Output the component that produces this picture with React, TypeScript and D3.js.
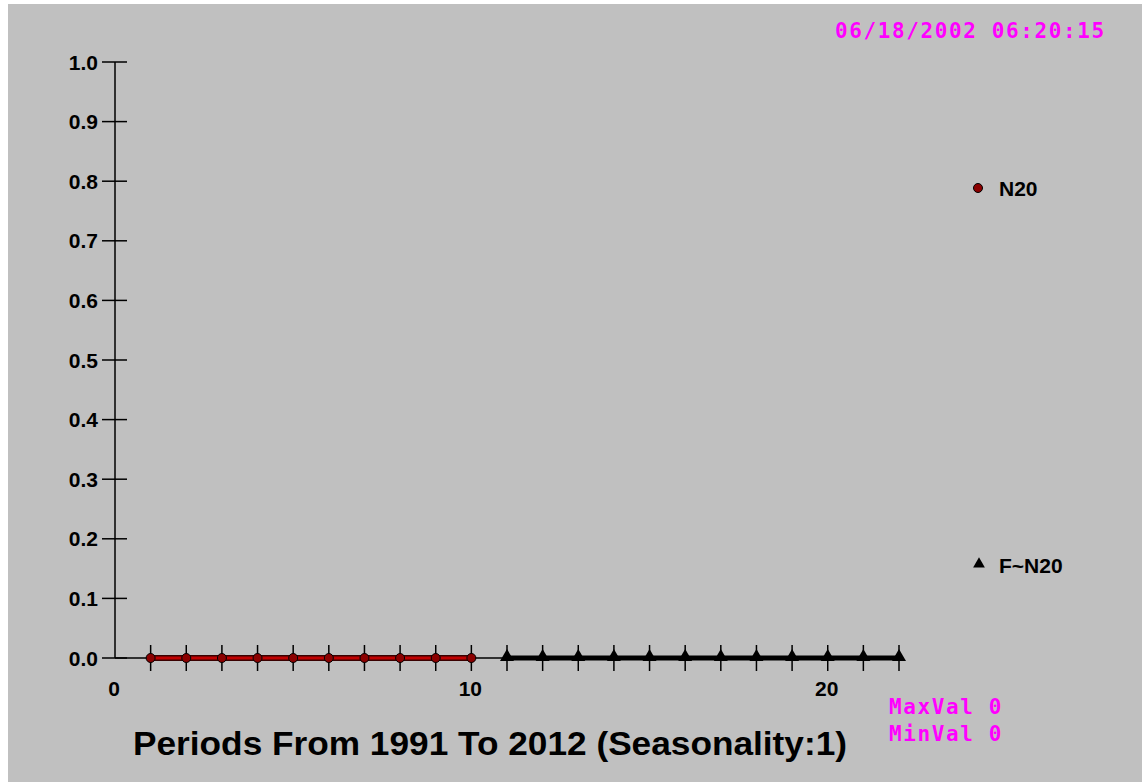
import React from "react";
import * as d3 from "d3";

const W = 1142;
const H = 782;

// Historical series N20 (periods 1-10) and forecast F~N20 (periods 11-22)
const histPeriods = [1, 2, 3, 4, 5, 6, 7, 8, 9, 10];
const histValues = [0, 0, 0, 0, 0, 0, 0, 0, 0, 0];
const fcPeriods = [11, 12, 13, 14, 15, 16, 17, 18, 19, 20, 21, 22];
const fcValues = [0, 0, 0, 0, 0, 0, 0, 0, 0, 0, 0, 0];

const yTicks = [0, 0.1, 0.2, 0.3, 0.4, 0.5, 0.6, 0.7, 0.8, 0.9, 1.0];
const xLabelTicks = [0, 10, 20];

const title = "Periods From 1991 To 2012 (Seasonality:1)";
const timestamp = "06/18/2002 06:20:15";
const maxVal = 0;
const minVal = 0;

export default function App() {
  const x = d3.scaleLinear().domain([0, 22]).range([115, 899]);
  const y = d3.scaleLinear().domain([0, 1]).range([658, 62]);

  const hist = histPeriods.map((p, i) => [p, histValues[i]] as [number, number]);
  const fc = fcPeriods.map((p, i) => [p, fcValues[i]] as [number, number]);
  const line = d3
    .line<[number, number]>()
    .x((d) => x(d[0]))
    .y((d) => y(d[1]));

  const tri = d3.symbol(d3.symbolTriangle, 85)() as string;
  const bold = "'Liberation Sans', Arial, sans-serif";
  const mono = "'DejaVu Sans Mono', monospace";
  const allPeriods = [...histPeriods, ...fcPeriods];

  return (
    <svg
      width={W}
      height={H}
      style={{ position: "absolute", left: 0, top: 0, background: "#fff" }}
    >
      <rect x={8} y={4} width={W - 8} height={H - 4} fill="#c0c0c0" />

      {/* timestamp */}
      <text
        x={835}
        y={38}
        fill="#ff00ff"
        fontFamily={mono}
        fontWeight="bold"
        fontSize={21}
        letterSpacing={1.6}
      >
        {timestamp}
      </text>

      {/* y axis */}
      <line x1={x(0)} x2={x(0)} y1={y(1)} y2={y(0)} stroke="#000" strokeWidth={1.5} />
      {yTicks.map((t) => (
        <g key={t}>
          <line x1={102} x2={127} y1={y(t)} y2={y(t)} stroke="#000" strokeWidth={1.5} />
          <text
            x={98}
            y={y(t) + 7.5}
            textAnchor="end"
            fontFamily={bold}
            fontWeight="bold"
            fontSize={21}
            fill="#000"
          >
            {t.toFixed(1)}
          </text>
        </g>
      ))}

      {/* x axis */}
      <line x1={x(0)} x2={x(22)} y1={y(0)} y2={y(0)} stroke="#000" strokeWidth={1.5} />
      {allPeriods.map((p) => (
        <line key={p} x1={x(p)} x2={x(p)} y1={y(0) - 13} y2={y(0) + 13} stroke="#000" strokeWidth={1.5} />
      ))}
      {xLabelTicks.map((t) => (
        <text
          key={t}
          x={x(t) - 1}
          y={y(0) + 38}
          textAnchor="middle"
          fontFamily={bold}
          fontWeight="bold"
          fontSize={21}
          fill="#000"
        >
          {t}
        </text>
      ))}

      {/* historical series */}
      <path d={line(hist) || ""} fill="none" stroke="#3a0000" strokeWidth={6} />
      <path d={line(hist) || ""} fill="none" stroke="#c00000" strokeWidth={3} />
      {hist.map((d) => (
        <circle key={d[0]} cx={x(d[0])} cy={y(d[1])} r={4.5} fill="#8b0000" stroke="#000" strokeWidth={1} />
      ))}

      {/* forecast series */}
      <path d={line(fc) || ""} fill="none" stroke="#000" strokeWidth={5} />
      {fc.map((d) => (
        <path key={d[0]} d={tri} transform={`translate(${x(d[0])},${y(d[1]) - 1})`} fill="#000" />
      ))}

      {/* legend */}
      <circle cx={978} cy={188} r={4.5} fill="#8b0000" stroke="#000" strokeWidth={1} />
      <text x={999} y={195.5} fontFamily={bold} fontWeight="bold" fontSize={21} fill="#000">
        N20
      </text>
      <path d={d3.symbol(d3.symbolTriangle, 60)() as string} transform="translate(979,564)" fill="#000" />
      <text x={999} y={572.5} fontFamily={bold} fontWeight="bold" fontSize={21} fill="#000">
        F~N20
      </text>

      {/* title */}
      <text
        x={133}
        y={755}
        fontFamily={bold}
        fontWeight="bold"
        fontSize={34}
        textLength={714}
        lengthAdjust="spacingAndGlyphs"
        fill="#000"
      >
        {title}
      </text>

      {/* extreme values */}
      <text x={889} y={714} fill="#ff00ff" fontFamily={mono} fontWeight="bold" fontSize={21} letterSpacing={1.6}>
        {`MaxVal ${maxVal}`}
      </text>
      <text x={889} y={741} fill="#ff00ff" fontFamily={mono} fontWeight="bold" fontSize={21} letterSpacing={1.6}>
        {`MinVal ${minVal}`}
      </text>
    </svg>
  );
}
